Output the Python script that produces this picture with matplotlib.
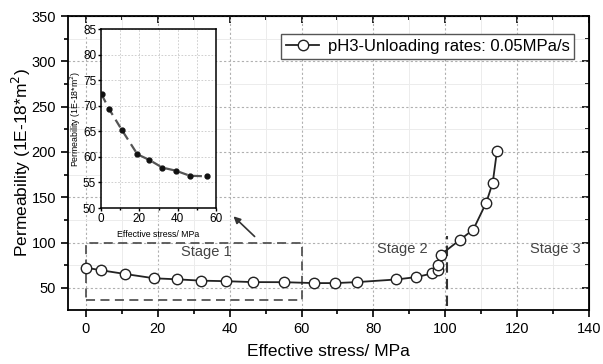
import matplotlib
matplotlib.use("Agg")
import matplotlib.pyplot as plt
from matplotlib.patches import Rectangle
from matplotlib.ticker import MultipleLocator

plt.rcParams["font.family"] = ["Liberation Sans", "DejaVu Sans"]

# ---- main curve ----
stress = [0, 4.3, 10.8, 19, 25.2, 32, 39, 46.4, 55.1, 63.6, 69.4, 75.5,
          86.4, 91.9, 96.3, 98.1, 98.1, 98.7, 104.1, 107.8, 111.4, 113.2, 114.4]
perm = [72.2, 69.3, 65.3, 60.5, 59.4, 57.9, 57.3, 56.3, 56.2, 55.2, 55.2, 56.3,
        59.2, 61.8, 65.8, 69.9, 75.4, 86.4, 103, 114.3, 144, 165.8, 201.4]

# ---- inset: stage 1 points ----
in_stress = [0.3, 4.3, 10.8, 19, 25.2, 32, 39, 46.4, 55.1]
in_perm = [72.2, 69.3, 65.3, 60.5, 59.4, 57.9, 57.3, 56.3, 56.2]

W, H = 603, 364
fig = plt.figure(figsize=(W / 100, H / 100), dpi=100)
ax = fig.add_axes([68 / W, 1 - 310 / H, (589 - 68) / W, (310 - 16) / H])

ax.set_xlim(-5, 140)
ax.set_ylim(25.5, 350)
ax.xaxis.set_major_locator(MultipleLocator(20))
ax.xaxis.set_minor_locator(MultipleLocator(10))
ax.yaxis.set_major_locator(MultipleLocator(50))
ax.yaxis.set_minor_locator(MultipleLocator(25))
ax.grid(True, which="major", ls=(0, (2, 2)), color="#b0b0b0", lw=0.8)
ax.grid(True, which="minor", ls="-", color="#ececec", lw=0.7)
ax.set_axisbelow(True)
ax.tick_params(which="both", direction="out", labelsize=10.5, width=1.2)
ax.tick_params(which="major", length=5)
ax.tick_params(which="minor", length=3)
for s in ax.spines.values():
    s.set_linewidth(1.3)
# mirrored ticks on top/right, pointing in
axt = ax.secondary_xaxis("top")
axt.xaxis.set_major_locator(MultipleLocator(20))
axt.xaxis.set_minor_locator(MultipleLocator(10))
axt.tick_params(which="both", direction="in", labeltop=False, width=1.2)
axt.tick_params(which="major", length=5)
axt.tick_params(which="minor", length=3)
axr = ax.secondary_yaxis("right")
axr.yaxis.set_major_locator(MultipleLocator(50))
axr.yaxis.set_minor_locator(MultipleLocator(25))
axr.tick_params(which="both", direction="in", labelright=False, width=1.2)
axr.tick_params(which="major", length=5)
axr.tick_params(which="minor", length=3)

ax.plot(stress, perm, "-o", color="#222222", lw=1.3, ms=7.5,
        mfc="white", mec="#222222", mew=1.0,
        label="pH3-Unloading rates: 0.05MPa/s", zorder=4)

ax.set_xlabel("Effective stress/ MPa", fontsize=12.5, labelpad=6)
ax.set_ylabel("Permeability (1E-18*m$^2$)", fontsize=12.5, labelpad=-1)

leg = ax.legend(loc="upper right", bbox_to_anchor=(0.972, 0.938), fontsize=12,
                fancybox=False, edgecolor="#555555", framealpha=1,
                handlelength=2.0, handletextpad=0.5, borderpad=0.3,
                borderaxespad=0)
leg.get_frame().set_linewidth(1.0)

# stage annotations
ax.add_patch(Rectangle((0, 37), 60, 63, fill=False, ls=(0, (5, 3)),
                       ec="#555555", lw=1.3, zorder=3))
ax.plot([100.5, 100.5], [30, 107], ls=(0, (5, 3)), color="#333333", lw=1.5, zorder=3)
ax.text(33.5, 90, "Stage 1", fontsize=10.5, ha="center", va="center", color="#444444")
ax.text(88, 93, "Stage 2", fontsize=10.5, ha="center", va="center", color="#444444")
ax.text(130.5, 93, "Stage 3", fontsize=10.5, ha="center", va="center", color="#444444")
ax.annotate("", xy=(40.5, 131), xytext=(47.5, 104.5),
            arrowprops=dict(arrowstyle="-|>", color="#333333", lw=1.2,
                            mutation_scale=10))

# ---- inset ----
ins = fig.add_axes([101 / W, 1 - 208 / H, (216 - 101) / W, (208 - 29) / H])
ins.set_xlim(0, 60)
ins.set_ylim(50, 85)
ins.xaxis.set_major_locator(MultipleLocator(20))
ins.xaxis.set_minor_locator(MultipleLocator(10))
ins.yaxis.set_major_locator(MultipleLocator(5))
ins.grid(True, which="both", ls=(0, (2, 2)), color="#c8c8c8", lw=0.6)
ins.set_axisbelow(True)
ins.tick_params(which="both", direction="out", labelsize=8.5, width=1.0, pad=1)
ins.tick_params(which="major", length=2.5)
ins.tick_params(which="minor", length=1.5)
for s in ins.spines.values():
    s.set_linewidth(1.1)
ins.plot(in_stress, in_perm, ls=(0, (4, 2.5)), color="#555555", lw=1.6, zorder=2)
ins.plot(in_stress, in_perm, "o", color="#111111", ms=3.5, zorder=3)
ins.set_xlabel("Effective stress/ MPa", fontsize=6.3, labelpad=4)
ins.set_ylabel("Permeability (1E-18*m$^2$)", fontsize=6.3, labelpad=0)

fig.savefig("out.png", dpi=100)
